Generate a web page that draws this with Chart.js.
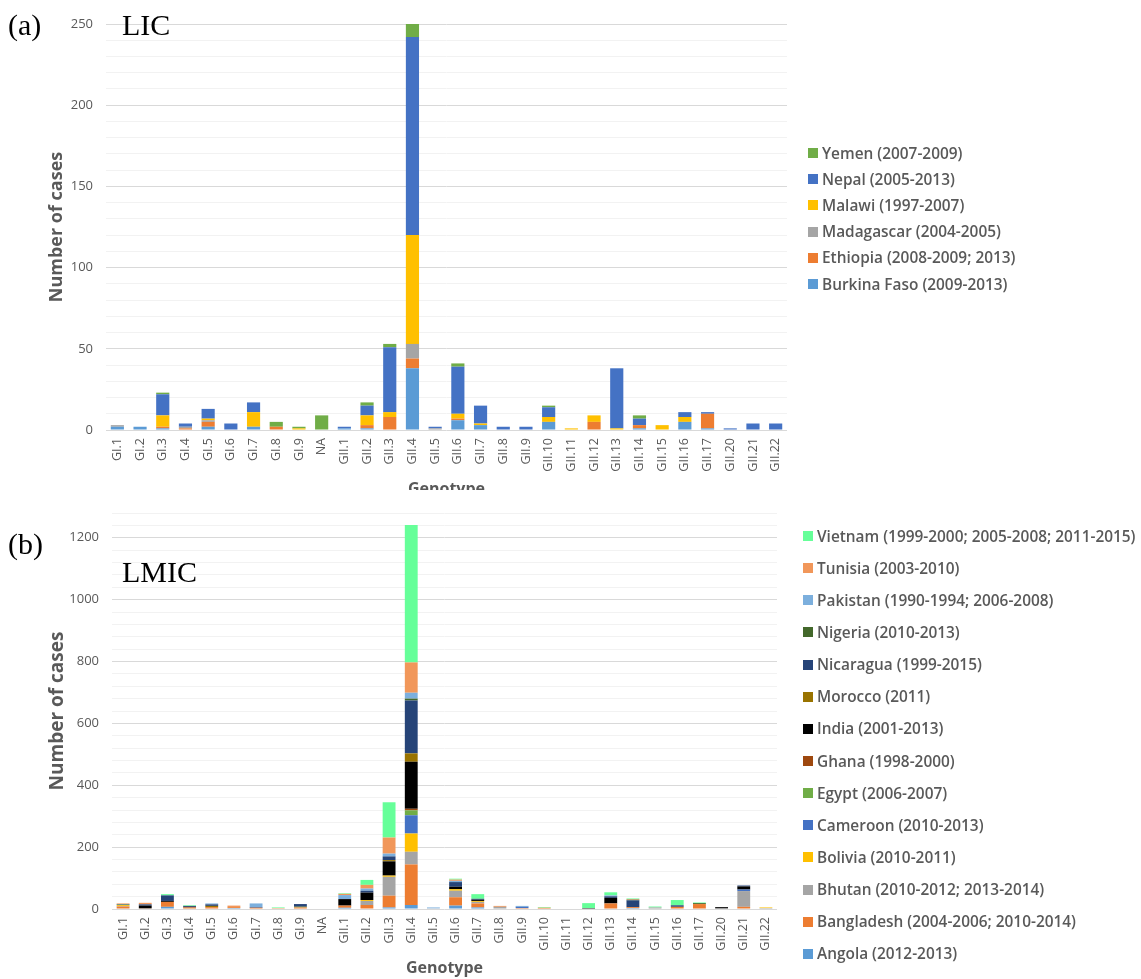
<!DOCTYPE html>
<html lang="en">
  <head>
    <meta charset="utf-8" />
    <title>Norovirus genotypes LIC / LMIC</title>
    <style>
      * {
        margin: 0;
        padding: 0;
      }
      body {
        width: 1141px;
        height: 979px;
        overflow: hidden;
        background: white;
        font-family: "Open Sans", sans-serif;
        color: #595959;
      }
      .panel {
        position: absolute;
        left: 0;
        width: 1141px;
        overflow: hidden;
      }
      #panelA {
        top: 0;
        height: 490px;
      }
      #panelB {
        top: 490px;
        height: 489px;
      }
      .tag {
        position: absolute;
        font-family: "Liberation Serif", serif;
        font-size: 30px;
        line-height: 30px;
        color: #000;
      }
      .legend {
        position: absolute;
        list-style: none;
        font-size: 15.4px;
        font-weight: 600;
        color: #595959;
        white-space: nowrap;
      }
      .legend li {
        display: flex;
        align-items: center;
      }
      .legend .box {
        display: inline-block;
        width: 10px;
        height: 10px;
        margin-right: 4px;
      }
      #legendA {
        left: 808px;
        top: 140px;
      }
      #legendA li {
        height: 26.2px;
      }
      #legendB {
        left: 803px;
        top: 520px;
      }
      #legendB li {
        height: 32.15px;
      }
    </style>
  </head>
  <body>
    <div class="panel" id="panelA">
      <canvas id="chartA" width="1141" height="500"></canvas>
    </div>
    <div class="panel" id="panelB">
      <canvas id="chartB" width="1141" height="489"></canvas>
    </div>
    <div class="tag" style="left: 8px; top: 10px">(a)</div>
    <div class="tag" style="left: 122px; top: 10px">LIC</div>
    <div class="tag" style="left: 8px; top: 529px">(b)</div>
    <div class="tag" style="left: 122px; top: 557px">LMIC</div>
    <ul class="legend" id="legendA"></ul>
    <ul class="legend" id="legendB"></ul>

    <script src="https://cdn.jsdelivr.net/npm/chart.js@4.4.1/dist/chart.umd.min.js"></script>

    <script>
      const genotypes = [
        "GI.1", "GI.2", "GI.3", "GI.4", "GI.5", "GI.6", "GI.7", "GI.8", "GI.9", "NA",
        "GII.1", "GII.2", "GII.3", "GII.4", "GII.5", "GII.6", "GII.7", "GII.8", "GII.9", "GII.10",
        "GII.11", "GII.12", "GII.13", "GII.14", "GII.15", "GII.16", "GII.17", "GII.20", "GII.21", "GII.22",
      ];

      // (a) low income countries
      const burkinaFaso = [2, 2, 1, 0, 2, 0, 2, 0, 0, 0, 1, 1, 0, 38, 0, 6, 3, 0, 0, 5, 0, 0, 0, 1, 0, 5, 1, 0, 0, 0];
      const ethiopia = [0, 0, 1, 1, 3, 0, 0, 2, 0, 0, 0, 2, 8, 6, 0, 1, 0, 0, 0, 0, 0, 5, 0, 2, 0, 0, 9, 0, 0, 0];
      const madagascar = [1, 0, 0, 1, 1, 0, 0, 0, 0, 0, 0, 0, 0, 9, 1, 0, 0, 0, 0, 0, 0, 0, 0, 0, 0, 0, 0, 0, 0, 0];
      const malawi = [0, 0, 7, 0, 1, 0, 9, 0, 1, 0, 0, 6, 3, 67, 0, 3, 1, 0, 0, 3, 1, 4, 1, 0, 3, 3, 0, 0, 0, 0];
      const nepal = [0, 0, 13, 2, 6, 4, 6, 0, 0, 0, 1, 6, 40, 122, 1, 29, 11, 2, 2, 6, 0, 0, 37, 4, 0, 3, 1, 1, 4, 4];
      const yemen = [0, 0, 1, 0, 0, 0, 0, 3, 1, 9, 0, 2, 2, 8, 0, 2, 0, 0, 0, 1, 0, 0, 0, 2, 0, 0, 0, 0, 0, 0];

      // (b) lower middle income countries
      const angola = [0, 0, 7, 0, 0, 3, 0, 0, 0, 0, 4, 0, 5, 13, 0, 11, 5, 0, 0, 0, 0, 0, 0, 3, 0, 0, 0, 0, 0, 0];
      const bangladesh = [8, 2, 16, 5, 6, 3, 4, 0, 5, 0, 7, 13, 38, 131, 0, 27, 13, 0, 3, 4, 0, 0, 18, 3, 0, 7, 16, 0, 7, 0];
      const bhutan = [2, 0, 0, 0, 0, 0, 0, 0, 0, 0, 0, 13, 61, 41, 2, 21, 5, 7, 0, 0, 0, 0, 0, 0, 5, 0, 0, 2, 51, 3];
      const bolivia = [3, 0, 0, 0, 0, 0, 0, 0, 0, 0, 0, 3, 4, 59, 0, 5, 3, 0, 0, 0, 0, 0, 0, 0, 0, 0, 0, 0, 0, 2];
      const cameroon = [0, 0, 0, 0, 0, 0, 0, 0, 0, 0, 0, 0, 0, 59, 0, 0, 0, 0, 4, 0, 0, 0, 0, 0, 0, 0, 0, 0, 5, 0];
      const egypt = [1, 0, 0, 0, 0, 0, 0, 0, 2, 0, 0, 0, 0, 16, 0, 0, 0, 0, 0, 0, 0, 0, 0, 0, 0, 0, 0, 0, 0, 0];
      const ghana = [0, 0, 0, 0, 0, 0, 0, 0, 0, 0, 0, 0, 0, 5, 0, 0, 0, 0, 0, 0, 0, 0, 0, 0, 0, 0, 0, 0, 0, 0];
      const india = [0, 9, 3, 2, 0, 0, 0, 0, 1, 0, 21, 24, 46, 152, 0, 8, 4, 0, 0, 0, 0, 3, 18, 0, 0, 0, 0, 4, 10, 0];
      const morocco = [0, 0, 0, 0, 4, 0, 0, 0, 0, 0, 0, 0, 4, 27, 0, 0, 0, 0, 0, 0, 0, 0, 0, 0, 0, 0, 0, 0, 0, 0];
      const nicaragua = [2, 4, 18, 3, 5, 0, 2, 0, 8, 0, 0, 6, 12, 171, 0, 15, 3, 0, 0, 0, 0, 0, 5, 22, 0, 5, 0, 0, 3, 0];
      const nigeria = [0, 0, 0, 0, 0, 0, 0, 0, 0, 0, 0, 0, 0, 6, 0, 0, 0, 0, 0, 0, 0, 0, 0, 2, 0, 0, 3, 0, 0, 0];
      const pakistan = [0, 0, 0, 0, 3, 0, 12, 0, 0, 0, 13, 7, 9, 19, 3, 4, 0, 0, 3, 0, 0, 0, 3, 0, 0, 0, 0, 0, 0, 0];
      const tunisia = [2, 5, 0, 0, 0, 5, 0, 3, 0, 0, 4, 12, 52, 98, 0, 4, 0, 3, 0, 0, 0, 0, 0, 2, 0, 0, 0, 0, 0, 0];
      const vietnam = [0, 0, 4, 2, 0, 0, 0, 2, 0, 0, 2, 16, 114, 444, 0, 3, 15, 0, 0, 2, 0, 16, 10, 2, 3, 17, 2, 0, 0, 0];

      const yTicksA = [0, 50, 100, 150, 200, 250];
      const yTicksB = [0, 200, 400, 600, 800, 1000, 1200];

      Chart.defaults.font.family = "'Open Sans', sans-serif";
      Chart.defaults.color = "#595959";

      const bar = (label, data, color) => ({
        label: label,
        data: data,
        backgroundColor: color,
        borderWidth: 0,
        barPercentage: 1,
        categoryPercentage: 0.58,
        stack: "cases",
      });

      // legend drawn as a list next to the canvas, top item = last series
      const htmlLegend = {
        id: "htmlLegend",
        afterUpdate(chart, args, options) {
          const ul = document.getElementById(options.containerID);
          ul.innerHTML = "";
          const items = chart.options.plugins.legend.labels.generateLabels(chart);
          items.reverse().forEach((item) => {
            const li = document.createElement("li");
            const box = document.createElement("span");
            box.className = "box";
            box.style.background = item.fillStyle;
            li.appendChild(box);
            li.appendChild(document.createTextNode(item.text));
            ul.appendChild(li);
          });
        },
      };

      function makeOptions(max, step, majorTicks, yWidth, padRight, padTop, yTitleSize) {
        return {
          responsive: false,
          animation: false,
          layout: {
            padding: { left: 46, right: padRight, top: padTop, bottom: 0 },
          },
          plugins: {
            legend: { display: false },
            tooltip: { enabled: false },
            htmlLegend: {},
          },
          scales: {
            x: {
              stacked: true,
              grid: { display: false, drawTicks: false },
              border: { display: false },
              ticks: {
                autoSkip: false,
                minRotation: 90,
                maxRotation: 90,
                padding: 8,
                font: { size: 12.5 },
              },
              title: {
                display: true,
                text: "Genotype",
                font: { size: 16, weight: "bold" },
                padding: { top: 0, bottom: 1 },
              },
              afterFit(scale) {
                scale.height = 70;
              },
            },
            y: {
              stacked: true,
              min: 0,
              max: max,
              grid: {
                drawTicks: false,
                color: (ctx) =>
                  majorTicks.includes(ctx.tick.value) ? "#D9D9D9" : "#F2F2F2",
              },
              border: { display: false },
              ticks: {
                autoSkip: false,
                stepSize: step,
                padding: 13,
                font: { size: 13 },
                callback: (v) => (majorTicks.includes(v) ? v : ""),
              },
              title: {
                display: true,
                text: "Number of cases",
                font: { size: yTitleSize, weight: "bold" },
                padding: { top: 0, bottom: 0 },
              },
              afterFit(scale) {
                scale.width = yWidth;
              },
            },
          },
        };
      }

      const optionsA = makeOptions(250, 10, yTicksA, 60, 354, 24, 18);
      optionsA.plugins.htmlLegend.containerID = "legendA";

      const chartA = new Chart(document.getElementById("chartA"), {
        type: "bar",
        data: {
          labels: genotypes,
          datasets: [
            bar("Burkina Faso (2009-2013)", burkinaFaso, "#5B9BD5"),
            bar("Ethiopia (2008-2009; 2013)", ethiopia, "#ED7D31"),
            bar("Madagascar  (2004-2005)", madagascar, "#A5A5A5"),
            bar("Malawi (1997-2007)", malawi, "#FFC000"),
            bar("Nepal (2005-2013)", nepal, "#4472C4"),
            bar("Yemen (2007-2009)", yemen, "#70AD47"),
          ],
        },
        options: optionsA,
        plugins: [htmlLegend],
      });

      const optionsB = makeOptions(1280, 40, yTicksB, 66, 364, 23, 19);
      optionsB.plugins.htmlLegend.containerID = "legendB";

      const chartB = new Chart(document.getElementById("chartB"), {
        type: "bar",
        data: {
          labels: genotypes,
          datasets: [
            bar("Angola (2012-2013)", angola, "#5B9BD5"),
            bar("Bangladesh (2004-2006; 2010-2014)", bangladesh, "#ED7D31"),
            bar("Bhutan (2010-2012; 2013-2014)", bhutan, "#A5A5A5"),
            bar("Bolivia (2010-2011)", bolivia, "#FFC000"),
            bar("Cameroon (2010-2013)", cameroon, "#4472C4"),
            bar("Egypt (2006-2007)", egypt, "#70AD47"),
            bar("Ghana (1998-2000)", ghana, "#9E480E"),
            bar("India (2001-2013)", india, "#000000"),
            bar("Morocco (2011)", morocco, "#997300"),
            bar("Nicaragua (1999-2015)", nicaragua, "#264478"),
            bar("Nigeria (2010-2013)", nigeria, "#43682B"),
            bar("Pakistan (1990-1994; 2006-2008)", pakistan, "#7CAFDD"),
            bar("Tunisia (2003-2010)", tunisia, "#F1975A"),
            bar("Vietnam (1999-2000; 2005-2008; 2011-2015)", vietnam, "#66FF99"),
          ],
        },
        options: optionsB,
        plugins: [htmlLegend],
      });
    </script>
  </body>
</html>
